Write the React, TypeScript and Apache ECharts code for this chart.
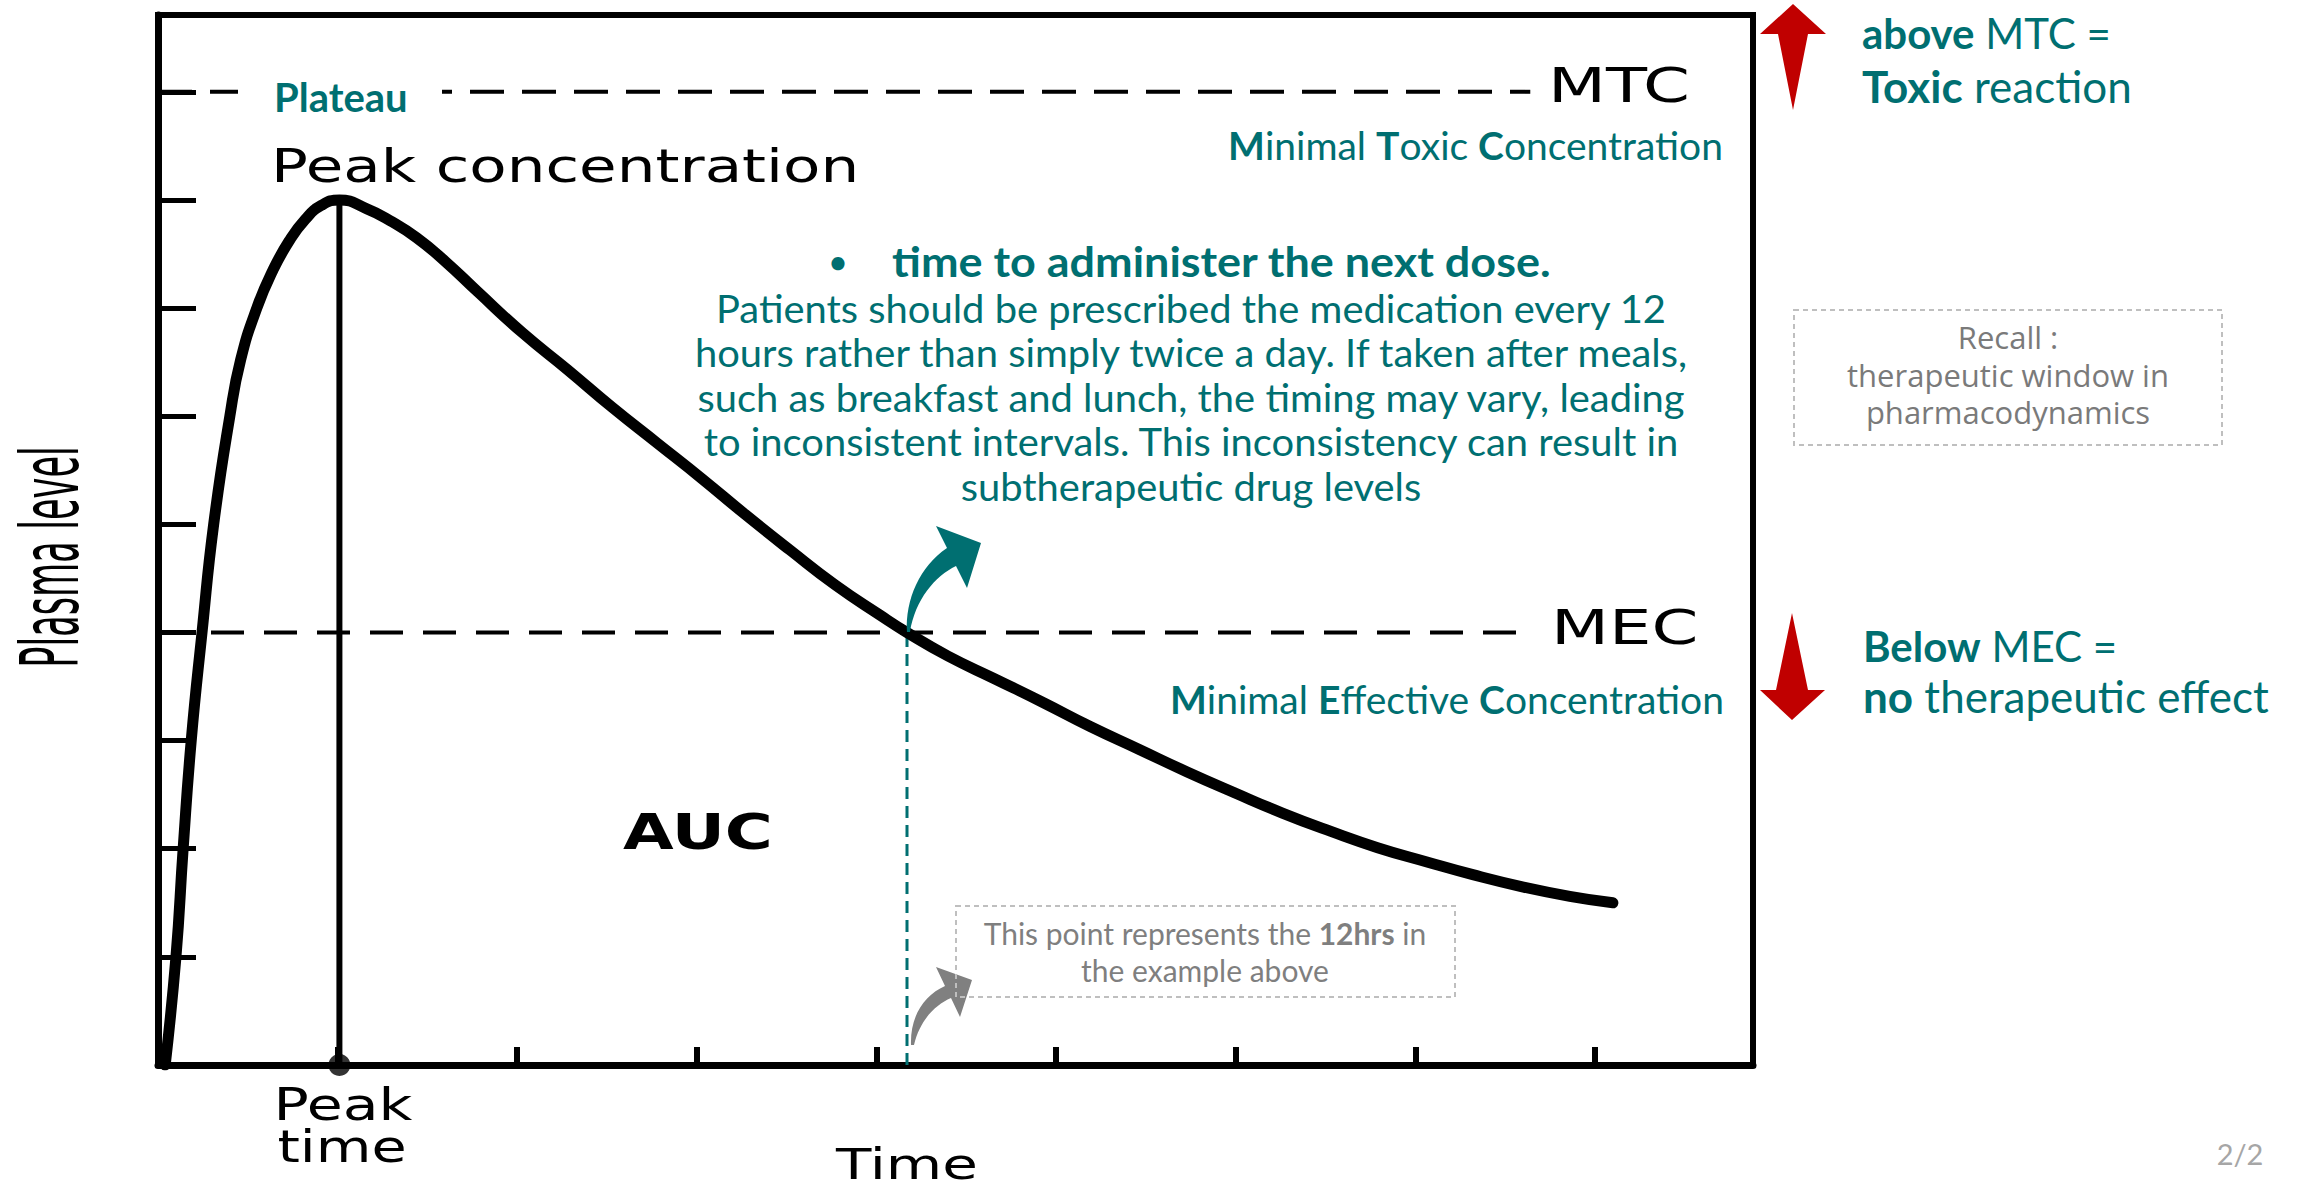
import React, { useEffect, useRef } from 'react';
import * as echarts from 'echarts';

// ---- data ----
const TIME = [0.04, 0.10, 0.14, 0.185, 0.245, 0.31, 0.40, 0.46, 0.55, 0.64, 0.73, 0.82, 0.91, 1.01, 1.16, 1.29, 1.44, 1.60, 1.78, 2.03, 2.28, 2.53, 2.78, 3.03, 3.27, 3.52, 3.77, 4.02, 4.17, 4.40, 4.66, 4.93, 5.19, 5.46, 5.73, 5.99, 6.26, 6.53, 6.79, 7.06, 7.32, 7.59, 7.86, 8.10];
const LEVEL = [0, 1, 2, 3, 4, 5, 6, 6.52, 7, 7.35, 7.62, 7.82, 7.95, 8.0, 7.92, 7.81, 7.65, 7.43, 7.15, 6.77, 6.43, 6.08, 5.75, 5.42, 5.09, 4.76, 4.44, 4.16, 4.0, 3.78, 3.57, 3.35, 3.13, 2.92, 2.71, 2.52, 2.33, 2.16, 2.01, 1.88, 1.76, 1.65, 1.56, 1.50];
const PEAK_TIME = 1.01;
const PEAK_LEVEL = 8.0;
const MTC_LEVEL = 9;
const MEC_LEVEL = 4;
const MEC_CROSS_TIME = 4.17;
const MTC_DASH_END = 7.64;
const MEC_DASH_END = 7.62;
const X_MIN = 0;
const X_MAX = 8.88;
const Y_MIN = 0;
const Y_MAX = 9.71;
const TICK_STEP = 1;

const PARAGRAPH = [
  'Patients should be prescribed the medication every 12',
  'hours rather than simply twice a day. If taken after meals,',
  'such as breakfast and lunch, the timing may vary, leading',
  'to inconsistent intervals. This inconsistency can result in',
  'subtherapeutic drug levels',
];
const RECALL = ['Recall :', 'therapeutic window in', 'pharmacodynamics'];

const TEAL = '#006F71';
const RED = '#C00000';
const GRAY = '#7f7f7f';
const LATO = 'Lato, "Noto Sans", sans-serif';
const OPEN = '"Open Sans", "Noto Sans", sans-serif';
const DJV = '"DejaVu Sans", sans-serif';

echarts.graphic.registerShape(
  'tealArrow',
  echarts.graphic.extendPath('M907 632 C905 600 920 566 947 548 L936 526 L981 543 L967 588 L956 566 C935 576 915 600 910 632 Z', {})
);
echarts.graphic.registerShape(
  'grayArrow',
  echarts.graphic.extendPath('M911 1045 C910 1015 925 995 945 986 L936 967 L972 980 L960 1017 L951 998 C935 1005 920 1020 914 1045 Z', {})
);

function txt(text: string, x: number, y: number, o: any = {}) {
  const align = o.align || 'left';
  return {
    type: 'text',
    x,
    y,
    z: 100,
    scaleX: o.scaleX ?? 1,
    scaleY: o.scaleY ?? 1,
    rotation: o.rotation ?? 0,
    style: {
      text,
      fill: o.fill || '#000',
      fontSize: o.fontSize || 36,
      fontFamily: o.fontFamily || LATO,
      fontWeight: o.fontWeight || 'normal',
      align,
      textAlign: align,
      verticalAlign: 'middle',
      textVerticalAlign: 'middle',
      rich: o.rich,
    },
  };
}

function tealRich(size: number) {
  return {
    b: { fontWeight: 'bold', fontSize: size, fontFamily: LATO, fill: TEAL },
    r: { fontWeight: 'normal', fontSize: size, fontFamily: LATO, fill: TEAL },
  };
}

export default function App() {
  const ref = useRef<HTMLDivElement>(null);

  useEffect(() => {
    if (!ref.current) return;
    const chart = echarts.init(ref.current, null, { renderer: 'svg' });

    const curve = TIME.map((t, i) => [t, LEVEL[i]]);

    const graphic: any[] = [
      // white gap behind "Plateau"
      { type: 'rect', z: 90, shape: { x: 238, y: 82, width: 204, height: 20 }, style: { fill: '#fff' } },
      txt('Plateau', 274, 97, { fill: TEAL, fontSize: 40, fontWeight: 'bold' }),
      txt('Peak concentration', 271, 166, { fontSize: 46, fontFamily: DJV, scaleX: 1.33 }),
      txt('MTC', 1548, 86, { fontSize: 48, fontFamily: DJV, scaleX: 1.4 }),
      txt('MEC', 1551, 628, { fontSize: 48, fontFamily: DJV, scaleX: 1.4 }),
      txt('AUC', 623, 832, { fontSize: 50, fontFamily: DJV, fontWeight: 'bold', scaleX: 1.31 }),
      txt('Peak', 343, 1105, { fontSize: 44, fontFamily: DJV, scaleX: 1.33, align: 'center' }),
      txt('time', 342, 1147, { fontSize: 44, fontFamily: DJV, scaleX: 1.3, align: 'center' }),
      txt('Time', 907, 1164, { fontSize: 42, fontFamily: DJV, scaleX: 1.38, align: 'center' }),
      txt('Plasma level', 51, 557, { fontSize: 80, fontFamily: DJV, scaleX: 0.44, rotation: Math.PI / 2, align: 'center' }),
      txt('{b|M}{r|inimal }{b|T}{r|oxic }{b|C}{r|oncentration}', 1723, 145, { align: 'right', fontSize: 39, fill: TEAL, rich: tealRich(39) }),
      txt('{b|M}{r|inimal }{b|E}{r|ffective }{b|C}{r|oncentration}', 1724, 699, { align: 'right', fontSize: 39, fill: TEAL, rich: tealRich(39) }),
      txt('•', 838, 261, { align: 'center', fontSize: 30, fontWeight: 'bold', fill: TEAL }),
      txt('time to administer the next dose.', 892, 261, { fontSize: 42, fontWeight: 'bold', fill: TEAL, scaleX: 1.07 }),
      ...PARAGRAPH.map((line, i) => txt(line, 1191, 308 + i * 44.5, { align: 'center', fontSize: 38, fill: TEAL, scaleX: 1.05 })),
      txt('{b|above}{r| MTC =}', 1862, 33, { fontSize: 42, fill: TEAL, rich: tealRich(42) }),
      txt('{b|Toxic}{r| reaction}', 1862, 86, { fontSize: 44, fill: TEAL, rich: tealRich(44) }),
      txt('{b|Below}{r| MEC =}', 1863, 646, { fontSize: 42, fill: TEAL, rich: tealRich(42) }),
      txt('{b|no}{r| therapeutic effect}', 1863, 696, { fontSize: 44, fill: TEAL, rich: tealRich(44) }),
      // red arrows
      { type: 'polygon', z: 100, shape: { points: [[1793, 4], [1826, 34], [1808, 34], [1793, 110], [1778, 34], [1760, 34]] }, style: { fill: RED } },
      { type: 'polygon', z: 100, shape: { points: [[1792, 720], [1825, 690], [1808, 690], [1792, 613], [1776, 690], [1760, 690]] }, style: { fill: RED } },
      // curved arrows
      { type: 'tealArrow', z: 100, x: 0, y: 0, style: { fill: TEAL } },
      { type: 'grayArrow', z: 100, x: 0, y: 0, style: { fill: '#808080' } },
      // 12hrs note box
      { type: 'rect', z: 100, shape: { x: 956, y: 906, width: 499, height: 91 }, style: { fill: 'none', stroke: '#bfbfbf', lineWidth: 2, lineDash: [5, 4] } },
      txt('This point represents the {g|12hrs} in', 1205, 933, {
        align: 'center', fontSize: 30, fill: GRAY,
        rich: { g: { fontWeight: 'bold', fontSize: 30, fontFamily: LATO, fill: GRAY } },
      }),
      txt('the example above', 1205, 970, { align: 'center', fontSize: 30, fill: GRAY }),
      // recall box
      { type: 'rect', z: 100, shape: { x: 1794, y: 310, width: 428, height: 135 }, style: { fill: 'none', stroke: '#bfbfbf', lineWidth: 2, lineDash: [5, 4] } },
      ...RECALL.map((line, i) => txt(line, 2008, 337 + i * 37.5, { align: 'center', fontSize: 31, fontFamily: OPEN, fill: '#7a7a7a' })),
      txt('2/2', 2240, 1153, { align: 'center', fontSize: 29, fill: '#a6a6a6' }),
    ];

    chart.setOption({
      animation: false,
      backgroundColor: '#fff',
      grid: {
        left: 158,
        top: 15,
        right: 2297 - 1753,
        bottom: 1192 - 1065,
        show: true,
        borderColor: '#000',
        borderWidth: 6,
        backgroundColor: 'transparent',
      },
      xAxis: {
        type: 'value',
        min: X_MIN,
        max: X_MAX,
        interval: TICK_STEP,
        axisLine: { show: true, lineStyle: { color: '#000', width: 7 } },
        axisTick: { show: true, inside: true, length: 18, lineStyle: { color: '#000', width: 6 } },
        axisLabel: { show: false },
        splitLine: { show: false },
      },
      yAxis: {
        type: 'value',
        min: Y_MIN,
        max: Y_MAX,
        interval: TICK_STEP,
        axisLine: { show: true, lineStyle: { color: '#000', width: 7 } },
        axisTick: { show: true, inside: true, length: 38, lineStyle: { color: '#000', width: 5 } },
        axisLabel: { show: false },
        splitLine: { show: false },
      },
      series: [
        {
          type: 'line',
          data: [[X_MIN, MTC_LEVEL], [MTC_DASH_END, MTC_LEVEL]],
          showSymbol: false,
          lineStyle: { color: '#000', width: 4, type: [34, 18] },
          silent: true,
        },
        {
          type: 'line',
          data: [[X_MIN, MEC_LEVEL], [MEC_DASH_END, MEC_LEVEL]],
          showSymbol: false,
          lineStyle: { color: '#000', width: 4, type: [33, 20] },
          silent: true,
        },
        {
          type: 'line',
          data: [[MEC_CROSS_TIME, Y_MIN], [MEC_CROSS_TIME, MEC_LEVEL]],
          showSymbol: false,
          lineStyle: { color: TEAL, width: 3, type: [12, 7] },
          silent: true,
        },
        {
          type: 'line',
          data: [[PEAK_TIME, Y_MIN], [PEAK_TIME, PEAK_LEVEL]],
          showSymbol: false,
          lineStyle: { color: '#000', width: 6 },
          silent: true,
        },
        {
          type: 'line',
          data: curve,
          showSymbol: false,
          smooth: 0.5,
          lineStyle: { color: '#000', width: 11, cap: 'round', join: 'round' },
          silent: true,
        },
        {
          type: 'scatter',
          data: [[PEAK_TIME, Y_MIN]],
          symbol: 'circle',
          symbolSize: 22,
          itemStyle: { color: '#000' },
          silent: true,
          z: 5,
        },
      ],
      graphic,
    });

    return () => chart.dispose();
  }, []);

  return (
    <div
      ref={ref}
      style={{ position: 'absolute', left: 0, top: 0, width: 2297, height: 1192, background: '#fff' }}
    />
  );
}
